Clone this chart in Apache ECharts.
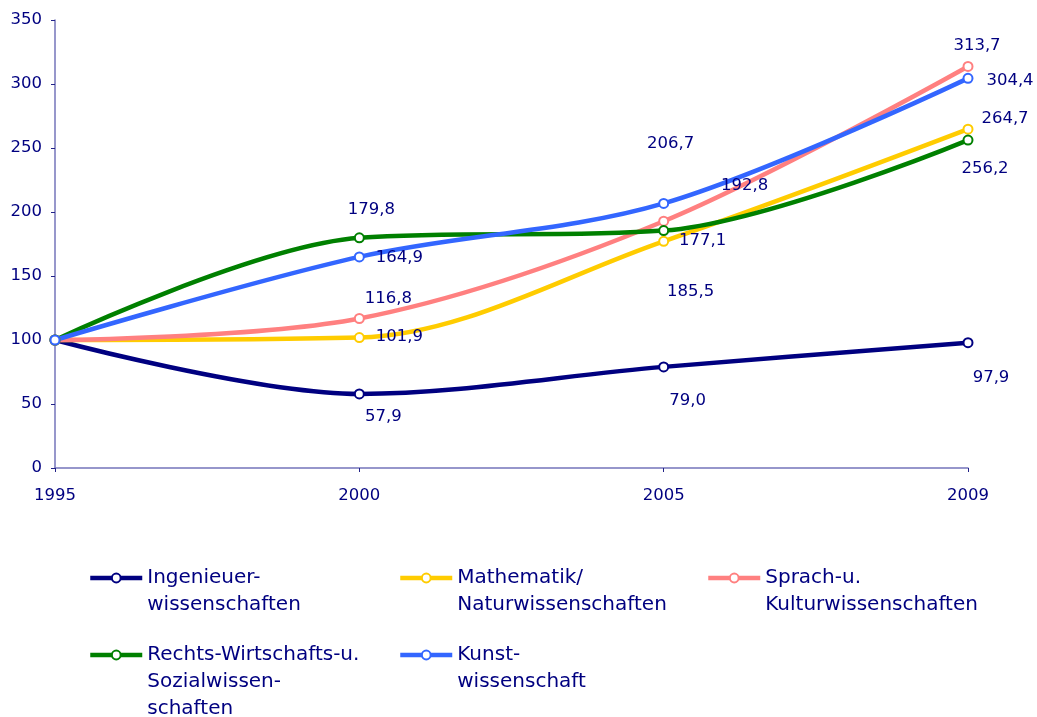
<!DOCTYPE html>
<html>
<head>
<meta charset="utf-8">
<title>Index Studienfächer 1995-2009</title>
<script src="https://cdn.jsdelivr.net/npm/echarts@6/dist/echarts.min.js"></script>
<style>
  html, body { margin: 0; padding: 0; background: #fff; }
  #chart { width: 1037px; height: 717px; }
</style>
</head>
<body>
<div id="chart"></div>
<script>
// data
const years = ["1995", "2000", "2005", "2009"];
const seriesNames = [
  "Ingenieuer-\nwissenschaften",
  "Mathematik/\nNaturwissenschaften",
  "Sprach-u.\nKulturwissenschaften",
  "Rechts-Wirtschafts-u.\nSozialwissen-\nschaften",
  "Kunst-\nwissenschaft"
];
const ingenieur = [100, 57.9, 79.0, 97.9];
const mathematik = [100, 101.9, 177.1, 264.7];
const sprach = [100, 116.8, 192.8, 313.7];
const rechts = [100, 179.8, 185.5, 256.2];
const kunst = [100, 164.9, 206.7, 304.4];
const yTicks = { min: 0, max: 350, step: 50 };

// styles
const colors = ["#000080", "#FFCC00", "#FF8080", "#008000", "#3366FF"];
const textColor = "#000080";
const font = "DejaVu Sans";
// label offsets (px from marker centre), first point has no label
const labelOffsets = [
  [null, [24, 23], [24, 34], [23, 35]],
  [null, [40, -1], [39, -1], [37, -10]],
  [null, [29, -20], [81, -35], [9, -21]],
  [null, [12, -28], [27, 61], [17, 29]],
  [null, [40, 1], [7, -60], [42, 2]]
];
// legend icon left / icon centre y
const legendPos = [
  [88, 578], [398, 578], [706, 578],
  [88, 655], [398, 655]
];
const lineH = 27;

const fmt = v => v.toFixed(1).replace(".", ",");

const allValues = [ingenieur, mathematik, sprach, rechts, kunst];

const series = allValues.map((vals, i) => ({
  name: seriesNames[i],
  type: "line",
  smooth: 0.33,
  symbol: "emptyCircle",
  symbolSize: 9,
  color: colors[i],
  lineStyle: { width: 4.5, color: colors[i] },
  itemStyle: { color: colors[i], borderWidth: 1.5 },
  data: vals.map((v, j) => {
    const off = labelOffsets[i][j];
    if (!off) return { value: v, label: { show: false } };
    return {
      value: v,
      label: {
        show: true,
        position: "inside",
        offset: off,
        formatter: p => fmt(p.value),
        color: textColor,
        fontSize: 16.5,
        fontFamily: font
      }
    };
  })
}));

// text is centred on the icon, so pad with empty lines above
// to put the first line level with the icon
const legends = seriesNames.map((name, i) => {
  const n = name.split("\n").length;
  return {
    data: [name],
    left: legendPos[i][0],
    top: legendPos[i][1] - (2 * n - 1) * lineH / 2,
    padding: 0,
    itemWidth: 52,
    itemHeight: 11,
    itemGap: 0,
    selectedMode: false,
    lineStyle: { width: 4.5 },
    formatter: nm => "\n".repeat(n - 1) + nm,
    textStyle: {
      color: textColor,
      fontSize: 20,
      fontFamily: font,
      lineHeight: lineH
    }
  };
});

const chart = echarts.init(document.getElementById("chart"));
chart.setOption({
  animation: false,
  backgroundColor: "#fff",
  textStyle: { fontFamily: font },
  grid: { left: 55, right: 69, top: 20, bottom: 249 },
  legend: legends,
  xAxis: {
    type: "category",
    data: years,
    boundaryGap: false,
    axisLine: { lineStyle: { color: "#7474BA", width: 1.5 } },
    axisTick: { show: true, length: 4, lineStyle: { color: "#222288" } },
    axisLabel: { color: textColor, fontSize: 16.5, fontFamily: font, margin: 19 },
    splitLine: { show: false }
  },
  yAxis: {
    type: "value",
    min: yTicks.min,
    max: yTicks.max,
    interval: yTicks.step,
    axisLine: { show: true, lineStyle: { color: "#7474BA", width: 1.5 } },
    axisTick: { show: true, length: 4, lineStyle: { color: "#222288" } },
    axisLabel: { color: textColor, fontSize: 16.5, fontFamily: font, margin: 13 },
    splitLine: { show: false }
  },
  series: series
});
</script>
</body>
</html>
